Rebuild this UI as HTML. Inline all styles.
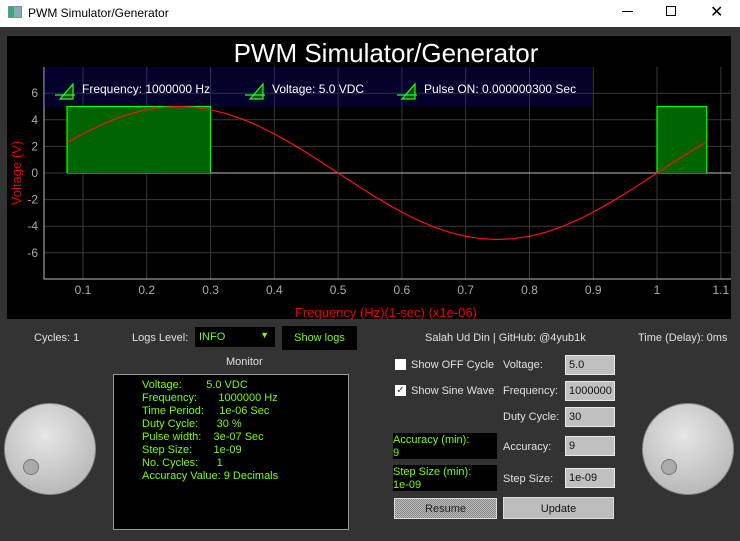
<!DOCTYPE html>
<html><head><meta charset="utf-8"><style>
*{box-sizing:border-box;margin:0;padding:0}
body{width:740px;height:541px;overflow:hidden;background:#333;font-family:"Liberation Sans",sans-serif;font-size:11px;color:#ddd;position:relative}
.a{position:absolute}
.inp{position:absolute;background:#c0c0c0;border:1px solid #e8e8e8;color:#111;font-size:11px;padding:3px 3px;height:20px;width:50px}
.lbl{position:absolute;color:#e0e0e0;font-size:11px}
.knob{position:absolute;width:92px;height:92px;border-radius:50%;background:radial-gradient(circle at 45% 35%,#e6e6e6,#bdbdbd 70%,#aaa);border:1px solid #888}
.knob i{position:absolute;width:16px;height:16px;border-radius:50%;background:#aaa;border:1px solid #777;left:18px;top:55px}
.gbox{position:absolute;background:#000;color:#7cfc00;font-size:11px;line-height:13px;padding:1px 0}
</style></head><body>
<div class="a" style="left:0;top:0;width:740px;height:27px;background:#fff"></div>
<div class="a" style="left:8px;top:6px;width:14px;height:12px;background:linear-gradient(90deg,#3a7 0 40%,#8ab 40%);border:1px solid #889"></div>
<div class="a" style="left:28px;top:6px;color:#000;font-size:12px">PWM Simulator/Generator</div>
<div class="a" style="left:622px;top:11px;width:11px;height:1px;background:#000"></div>
<div class="a" style="left:666px;top:6px;width:10px;height:10px;border:1px solid #000"></div>
<div class="a" style="left:710px;top:2px;color:#000;font-size:16px">✕</div>

<svg class="a" style="left:0;top:0" width="740" height="541">
<rect x="7" y="36" width="724" height="283" fill="#000"/>
<g id="grid"></g>
<rect x="44" y="67" width="548" height="40" fill="#0404c0" fill-opacity="0.22"/>
<g id="marks"></g>
<text x="386" y="62" fill="#fff" font-size="26" text-anchor="middle" font-family="Liberation Sans">PWM Simulator/Generator</text>
<g id="legend"></g>
<text x="386" y="317" fill="#e00" font-size="13" text-anchor="middle" font-family="Liberation Sans">Frequency (Hz)(1-sec) (x1e-06)</text>
<text transform="translate(21,173) rotate(-90)" fill="#e00" font-size="13" text-anchor="middle" font-family="Liberation Sans">Voltage (V)</text>
</svg>

<div class="lbl" style="left:34px;top:332px">Cycles: 1</div>
<div class="lbl" style="left:132px;top:332px">Logs Level:</div>
<div class="a" style="left:195px;top:327px;width:80px;height:20px;background:#000;color:#7cfc00;padding:4px 4px">INFO<span style="position:absolute;right:6px;top:3px;font-size:9px">▼</span></div>
<div class="a" style="left:282px;top:326px;width:75px;height:24px;background:#000;color:#7cfc00;text-align:center;padding-top:6px">Show logs</div>
<div class="lbl" style="left:425px;top:332px">Salah Ud Din | GitHub: @4yub1k</div>
<div class="lbl" style="left:638px;top:332px">Time (Delay): 0ms</div>
<div class="lbl" style="left:226px;top:356px">Monitor</div>

<div class="knob" style="left:4px;top:403px"><i></i></div>
<div class="knob" style="left:642px;top:403px"><i></i></div>

<div class="a" style="left:113px;top:374px;width:236px;height:156px;background:#000;border:1px solid #999;color:#7cfc00;font-size:11px;line-height:13px;padding:4px 0 0 28px;white-space:pre">Voltage:        5.0 VDC
Frequency:       1000000 Hz
Time Period:     1e-06 Sec
Duty Cycle:      30 %
Pulse width:    3e-07 Sec
Step Size:       1e-09
No. Cycles:      1
Accuracy Value: 9 Decimals</div>

<div class="a" style="left:395px;top:359px;width:11px;height:11px;background:#fff"></div>
<div class="lbl" style="left:411px;top:359px">Show OFF Cycle</div>
<div class="a" style="left:395px;top:385px;width:11px;height:11px;background:#fff;color:#333;font-size:10px;line-height:11px;text-align:center">✓</div>
<div class="lbl" style="left:411px;top:385px">Show Sine Wave</div>
<div class="gbox" style="left:393px;top:433px;width:104px;height:26px">Accuracy (min):<br>9</div>
<div class="gbox" style="left:393px;top:465px;width:104px;height:26px">Step Size (min):<br>1e-09</div>
<div class="a" style="left:394px;top:498px;width:103px;height:21px;border:1px solid #ddd;background:repeating-conic-gradient(#bbb 0 25%,#888 0 50%) 0 0/2px 2px;color:#222;text-align:center;padding-top:4px">Resume</div>
<div class="a" style="left:503px;top:497px;width:111px;height:22px;border:1px solid #ddd;background:#bdbdbd;color:#111;text-align:center;padding-top:5px">Update</div>

<div class="lbl" style="left:503px;top:359px">Voltage:</div>
<div class="inp" style="left:565px;top:355px">5.0</div>
<div class="lbl" style="left:503px;top:385px">Frequency:</div>
<div class="inp" style="left:565px;top:381px">1000000</div>
<div class="lbl" style="left:503px;top:411px">Duty Cycle:</div>
<div class="inp" style="left:565px;top:407px">30</div>
<div class="lbl" style="left:503px;top:441px">Accuracy:</div>
<div class="inp" style="left:565px;top:436px">9</div>
<div class="lbl" style="left:503px;top:473px">Step Size:</div>
<div class="inp" style="left:565px;top:468px">1e-09</div>

<script>
const xTicks=[0.1,0.2,0.3,0.4,0.5,0.6,0.7,0.8,0.9,1,1.1];
const xTickLabels=["0.1","0.2","0.3","0.4","0.5","0.6","0.7","0.8","0.9","1","1.1"];
const yTicks=[-6,-4,-2,0,2,4,6];
const yTickLabels=["-6","-4","-2","0","2","4","6"];
const pulseStarts=[0.075,1.0];
const pulseEnds=[0.3,1.078];
const pulseVoltage=[5,5];
const sineStart=0.075;
const sineStep=0.025;
const sineValues=[2.27,2.94,3.54,4.05,4.46,4.76,4.94,5,4.94,4.76,4.46,4.05,3.54,2.94,2.27,1.55,0.78,0,-0.78,-1.55,-2.27,-2.94,-3.54,-4.05,-4.46,-4.76,-4.94,-5,-4.94,-4.76,-4.46,-4.05,-3.54,-2.94,-2.27,-1.55,-0.78,0,0.78,1.55,2.27];
const legendLabels=["Frequency: 1000000 Hz","Voltage: 5.0 VDC","Pulse ON: 0.000000300 Sec"];

const NS="http://www.w3.org/2000/svg";
const X=v=>83+(v-0.1)*637.8;
const Y=v=>173-v*13.3;
const TOP=67;
function mk(tag,attrs,parent){const e=document.createElementNS(NS,tag);for(const k in attrs)e.setAttribute(k,attrs[k]);parent.appendChild(e);return e;}
const grid=document.getElementById('grid'),marks=document.getElementById('marks'),leg=document.getElementById('legend');
xTicks.forEach((t,i)=>{
  const l=mk('line',{x1:X(t),x2:X(t),y1:TOP,y2:279,stroke:'#3a3a3a','stroke-width':1},grid);
  
  
  const tx=mk('text',{x:X(t),y:294,fill:'#aaa','font-size':12,'text-anchor':'middle','font-family':'Liberation Sans'},grid);
  tx.textContent=xTickLabels[i];
  
  
});
yTicks.forEach((t,i)=>{
  const l=mk('line',{x1:44,x2:731,y1:Y(t),y2:Y(t),stroke:'#3a3a3a','stroke-width':1},grid);
  
  
  const tx=mk('text',{x:38,y:Y(t)+4,fill:'#aaa','font-size':12,'text-anchor':'end','font-family':'Liberation Sans'},grid);
  tx.textContent=yTickLabels[i];
  
  
});
const ax=mk('path',{d:`M44 ${TOP}V279H731`,stroke:'#bbb',fill:'none'},grid);


const zl=mk('line',{x1:X(pulseStarts[0]),x2:731,y1:Y(0),y2:Y(0),stroke:'#bbb'},marks);


pulseStarts.forEach((s,i)=>{
  const r=mk('rect',{x:X(s),y:Y(pulseVoltage[i]),width:X(pulseEnds[i])-X(s),height:Y(0)-Y(pulseVoltage[i]),fill:'#006400'},marks);
  
  
  const p=mk('path',{d:`M${X(s)} ${Y(0)}V${Y(pulseVoltage[i])}H${X(pulseEnds[i])}V${Y(0)}`,stroke:'#00ff00',fill:'none','stroke-width':1.3},marks);
  
  
});
let d='';sineValues.forEach((v,i)=>{d+=(i?'L':'M')+X(sineStart+i*sineStep).toFixed(1)+' '+Y(v).toFixed(1);});
const sp=mk('path',{d:d,stroke:'#ff1010',fill:'none','stroke-width':1.2},marks);


const lx=[55,245,397];
legendLabels.forEach((t,i)=>{
  const x=lx[i];
  const ic=mk('path',{d:`M${x} 95H${x+20}M${x+5} 99L${x+18} 84V99Z`,stroke:'#2f2',fill:'#0a4d0a','stroke-width':1.2},leg);
  
  
  const tx=mk('text',{x:x+27,y:93,fill:'#fff','font-size':12,'font-family':'Liberation Sans'},leg);
  tx.textContent=t;
  
  
});
</script>
</body></html>
